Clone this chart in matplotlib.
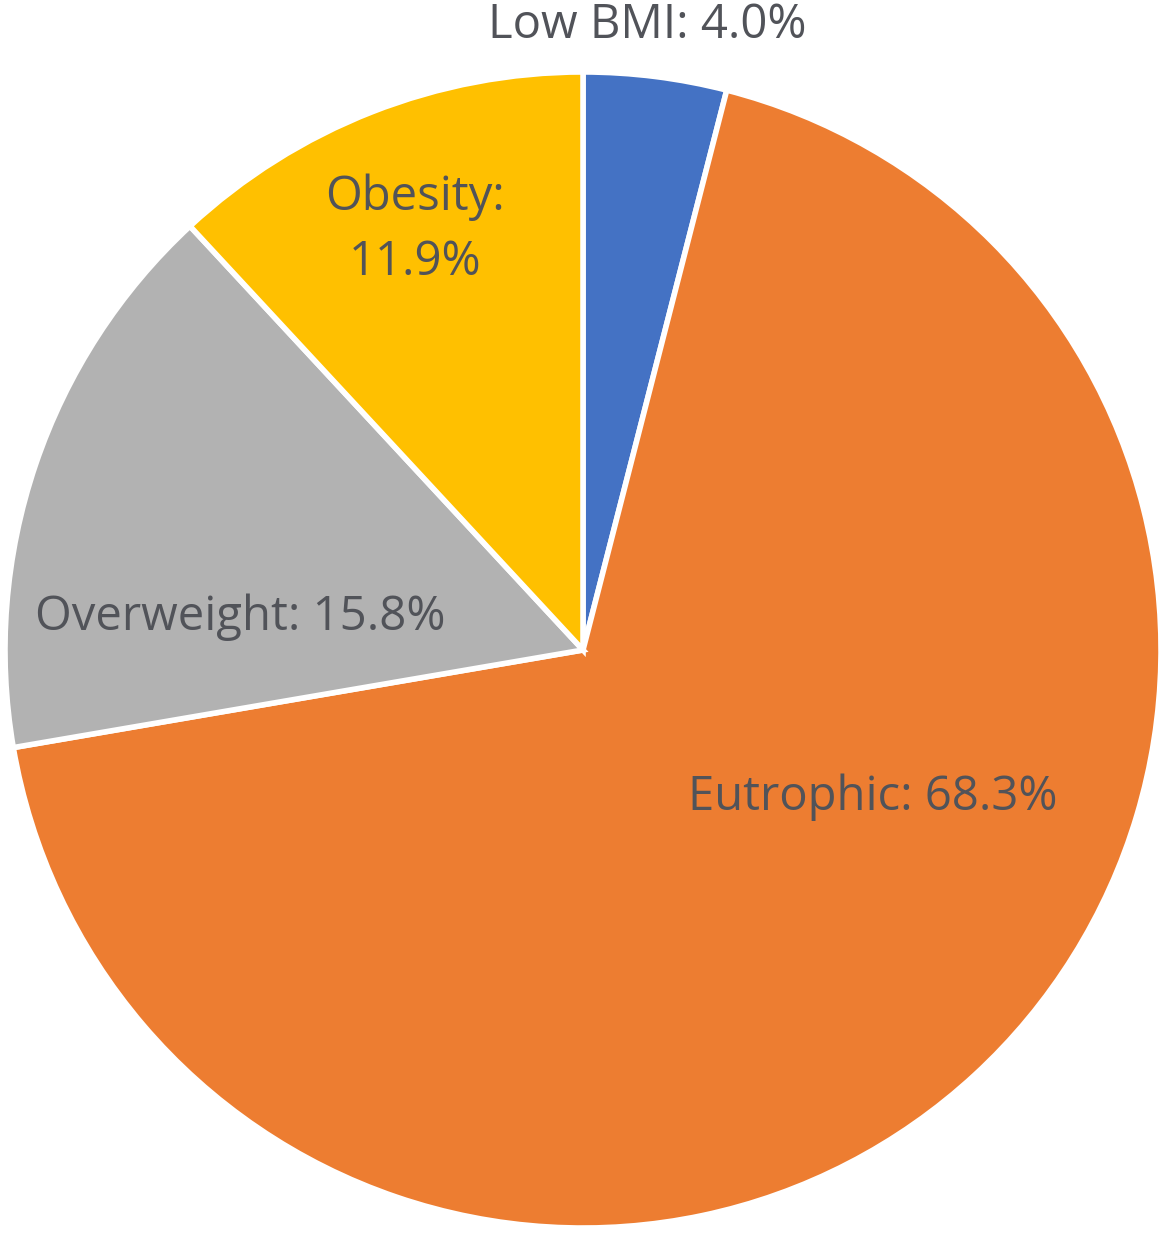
import matplotlib.pyplot as plt

categories = ["Low BMI", "Eutrophic", "Overweight", "Obesity"]
shares = [4.0, 68.3, 15.8, 11.9]
colors = ["#4472C4", "#ED7D31", "#B2B2B2", "#FFC000"]

# label anchor points (in pie radius units) and line breaks
label_pos = [(0.112, 1.081), (0.502, -0.254), (-0.593, 0.057), (-0.29, 0.727)]
label_fmt = ["{}: {:.1f}%", "{}: {:.1f}%", "{}: {:.1f}%", "{}:\n{:.1f}%"]

fig = plt.figure(figsize=(11.67, 12.34), dpi=100)
ax = fig.add_axes([0.00428, 0.00486, 0.9906, 0.9368])
ax.pie(shares, colors=colors, startangle=90, counterclock=False, radius=1.0,
       wedgeprops=dict(edgecolor="white", linewidth=4))
ax.set_xlim(-1, 1)
ax.set_ylim(-1, 1)

for name, val, (x, y), fmt in zip(categories, shares, label_pos, label_fmt):
    ax.text(x, y, fmt.format(name, val), ha="center", va="center",
            fontsize=34, color="#515359", family="Open Sans",
            linespacing=1.5, clip_on=False)

fig.savefig("out.png", dpi=100)
